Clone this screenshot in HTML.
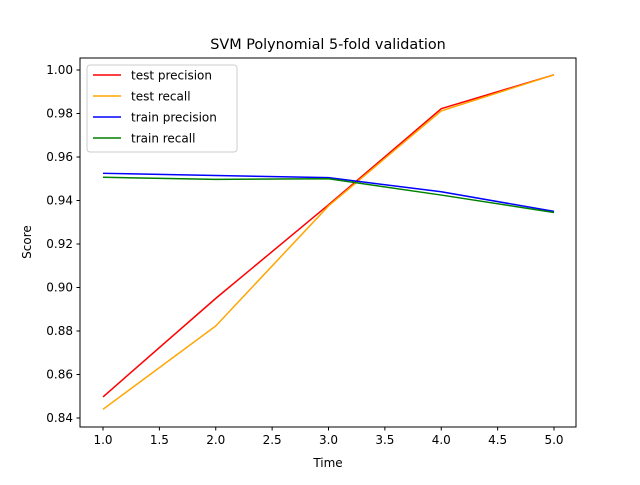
<!DOCTYPE html>
<html><head><meta charset="utf-8"><style>
body{margin:0;background:#fff;}
svg text{font-family:"DejaVu Sans","Liberation Sans",sans-serif;}
</style></head><body>
<svg id="chart" width="640" height="480" xmlns="http://www.w3.org/2000/svg"></svg>
<script>
const categories=[1,2,3,4,5];
const testPrecision=[0.8497,0.8950,0.9380,0.9822,0.9978];
const testRecall=[0.8440,0.8823,0.9375,0.9812,0.9978];
const trainPrecision=[0.9525,0.9515,0.9505,0.9440,0.9350];
const trainRecall=[0.9507,0.9497,0.9500,0.9425,0.9345];
const xTicks=[1.0,1.5,2.0,2.5,3.0,3.5,4.0,4.5,5.0];
const yTicks=[0.84,0.86,0.88,0.90,0.92,0.94,0.96,0.98,1.00];
const seriesNames=["test precision","test recall","train precision","train recall"];
const seriesColors=["#ff0000","#ffa500","#0000ff","#008000"];
const L=80,R=576,T=58,B=427;
const xs=v=>103+(v-1)*112.75;
const ys=v=>418-(v-0.84)*2175;
const svg=document.getElementById('chart');
const NS="http://www.w3.org/2000/svg";
function mk(tag,attrs,name){const e=document.createElementNS(NS,tag);for(const k in attrs)e.setAttribute(k,attrs[k]);


svg.appendChild(e);return e;}
mk('text',{x:328,y:49,'text-anchor':'middle','font-size':14.4,fill:'#000'},'chart-title').textContent="SVM Polynomial 5-fold validation";
[testPrecision,testRecall,trainPrecision,trainRecall].forEach((s,i)=>{
 mk('polyline',{points:s.map((v,j)=>xs(categories[j])+','+ys(v)).join(' '),fill:'none',stroke:seriesColors[i],'stroke-width':1.5},'line-'+seriesNames[i].replace(' ','-'));
});
mk('rect',{x:L,y:T,width:R-L,height:B-T,fill:'none',stroke:'#000','stroke-width':1},'axes-frame');
xTicks.forEach(t=>{const x=xs(t);
 mk('line',{x1:x,x2:x,y1:B,y2:B+3.5,stroke:'#000'},'x-tick');
 mk('text',{x:x,y:B+17,'text-anchor':'middle','font-size':12,fill:'#000'},'x-tick-label').textContent=t.toFixed(1);});
yTicks.forEach(t=>{const y=ys(t);
 mk('line',{x1:L-3.5,x2:L,y1:y,y2:y,stroke:'#000'},'y-tick');
 mk('text',{x:L-7,y:y+4,'text-anchor':'end','font-size':12,fill:'#000'},'y-tick-label').textContent=t.toFixed(2);});
mk('text',{x:328,y:467,'text-anchor':'middle','font-size':12,fill:'#000'},'x-axis-title').textContent="Time";
mk('text',{x:31,y:242,'text-anchor':'middle','font-size':12,fill:'#000',transform:'rotate(-90 31 242)'},'y-axis-title').textContent="Score";
mk('rect',{x:87,y:65,width:150,height:87,rx:3,fill:'#fff','fill-opacity':0.8,stroke:'#ccc'},'legend');
seriesNames.forEach((n,i)=>{const y=75+i*21;
 mk('line',{x1:93,x2:121,y1:y,y2:y,stroke:seriesColors[i],'stroke-width':1.5},'legend-swatch');
 mk('text',{x:131,y:y+4.5,'font-size':12,fill:'#000'},'legend-entry').textContent=n;});
</script>
</body></html>
